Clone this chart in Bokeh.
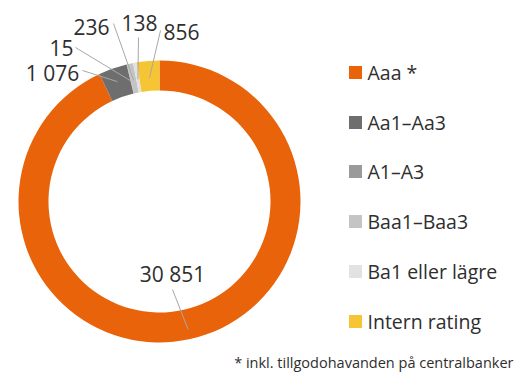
import math
from bokeh.plotting import figure
from bokeh.models import Range1d, ColumnDataSource
from bokeh.core.properties import value
from bokeh.embed import file_html
from bokeh.resources import INLINE

# ---- data ----
categories = ["Aaa *", "Aa1–Aa3", "A1–A3", "Baa1–Baa3", "Ba1 eller lägre", "Intern rating"]
values = [30851, 1076, 15, 236, 138, 856]
value_labels = ["30 851", "1 076", "15", "236", "138", "856"]
colors = ["#E9630B", "#6E6E6E", "#9A9A9A", "#C4C4C4", "#E2E2E2", "#F6C533"]
footnote = "* inkl. tillgodohavanden på centralbanker"

W, H = 517, 372
FONT = "Open Sans"
TXT = "#2e2e2e"

def Y(y):  # image-style y (down) -> plot y (up)
    return H - y

cx, cy = 159, Y(201)
r_out, r_in = 141, 111

p = figure(width=W, height=H, x_range=Range1d(0, W), y_range=Range1d(0, H),
           x_axis_type=None, y_axis_type=None, toolbar_location=None,
           output_backend="svg", min_border=0, outline_line_color=None)
p.xgrid.visible = False
p.ygrid.visible = False
p.background_fill_color = "white"
p.border_fill_color = "white"

total = float(sum(values))
starts, ends, mids = [], [], []
acc = 0.0
for v in values:
    f0 = acc / total
    acc += v
    f1 = acc / total
    # clockwise from 12 o'clock -> standard angle
    starts.append(math.pi / 2 - 2 * math.pi * f0)
    ends.append(math.pi / 2 - 2 * math.pi * f1)
    mids.append(math.pi / 2 - 2 * math.pi * (f0 + f1) / 2)

src = ColumnDataSource(dict(start=starts, end=ends, color=colors))
p.annular_wedge(x=cx, y=cy, inner_radius=r_in, outer_radius=r_out,
                start_angle="start", end_angle="end", direction="clock",
                color="color", line_color=None, source=src)

# ---- labels with leader lines (layout positions, image coords) ----
label_pos = [(172, 273), (52, 72), (61, 47), (91, 26), (139, 22), (181, 31)]
line_start = [(172, 289), (82, 70), (75, 47), (113, 23), (138, 37), (160, 30)]
r_lead = [131, 127, 124, 124, 124, 124]

x0s, y0s, x1s, y1s = [], [], [], []
for (sx, sy), a, rl in zip(line_start, mids, r_lead):
    x0s.append(sx)
    y0s.append(Y(sy))
    x1s.append(cx + rl * math.cos(a))
    y1s.append(cy + rl * math.sin(a))
p.segment(x0=x0s, y0=y0s, x1=x1s, y1=y1s, line_color="#A8A8A8", line_width=1)

p.text(x=[lp[0] for lp in label_pos], y=[Y(lp[1]) for lp in label_pos], text=value_labels,
       text_font=value(FONT), text_font_size="21px", text_color=TXT,
       text_align="center", text_baseline="middle")

# ---- legend ----
leg_y = [72, 122, 171, 221, 271, 321]
p.scatter(x=[355] * len(categories), y=[Y(v) for v in leg_y], marker="square", size=13,
          color=colors, line_color=None)
p.text(x=[367] * len(categories), y=[Y(v) for v in leg_y], text=categories,
       text_font=value(FONT), text_font_size="19.5px", text_color=TXT,
       text_align="left", text_baseline="middle")

# ---- footnote ----
p.text(x=[513], y=[Y(362)], text=[footnote], text_font=value(FONT),
       text_font_size="14.5px", text_color=TXT, text_align="right", text_baseline="middle")

open("out.html", "w").write(file_html(p, INLINE))
